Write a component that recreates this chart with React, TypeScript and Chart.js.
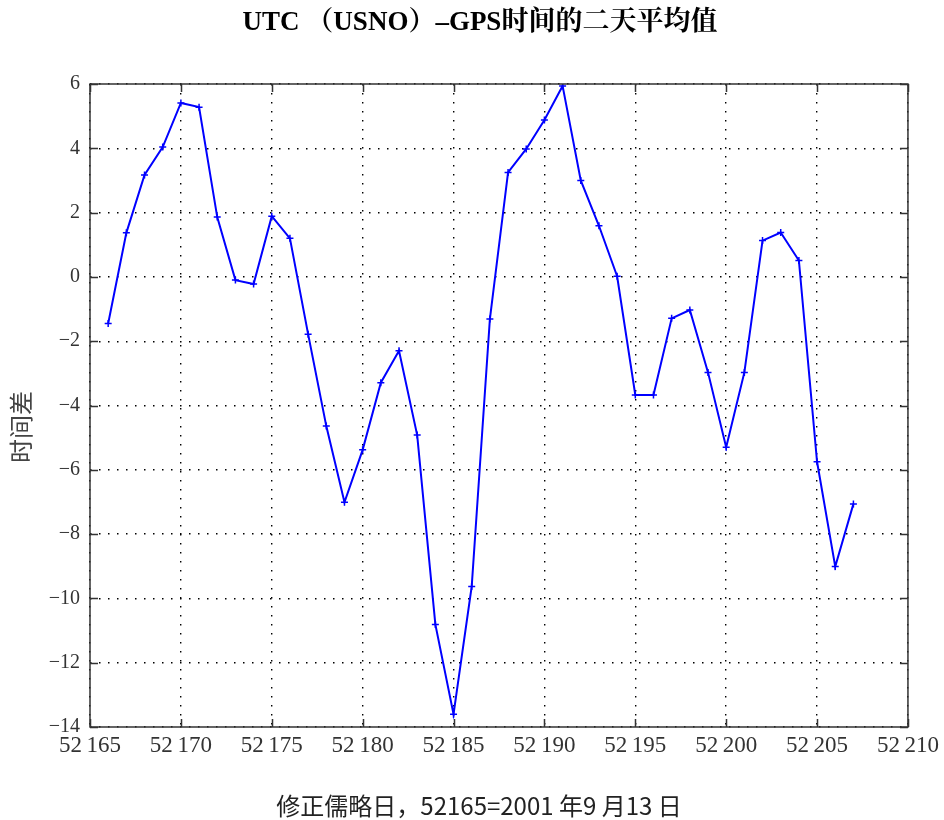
import React, { useEffect, useRef } from "react";
import { Chart, registerables } from "chart.js";

Chart.register(...registerables);

const days = [
  52166, 52167, 52168, 52169, 52170, 52171, 52172, 52173, 52174, 52175,
  52176, 52177, 52178, 52179, 52180, 52181, 52182, 52183, 52184, 52185,
  52186, 52187, 52188, 52189, 52190, 52191, 52192, 52193, 52194, 52195,
  52196, 52197, 52198, 52199, 52200, 52201, 52202, 52203, 52204, 52205,
  52206, 52207,
];
const timeDiff = [
  -1.45, 1.37, 3.17, 4.04, 5.41, 5.28, 1.86, -0.1, -0.22, 1.89,
  1.2, -1.78, -4.64, -7.01, -5.38, -3.29, -2.3, -4.92, -10.81, -13.6,
  -9.63, -1.31, 3.25, 3.98, 4.88, 5.94, 3.0, 1.59, 0.02, -3.67,
  -3.67, -1.29, -1.03, -2.97, -5.3, -2.97, 1.13, 1.38, 0.51, -5.75,
  -9.01, -7.06,
];
const xTicks = [52165, 52170, 52175, 52180, 52185, 52190, 52195, 52200, 52205, 52210];
const yTicks = [-14, -12, -10, -8, -6, -4, -2, 0, 2, 4, 6];

const titleText = "UTC （USNO）–GPS时间的二天平均值";
const xTitle = "修正儒略日，52165=2001 年9 月13 日";
const yTitle = "时间差";

const frameTicks = {
  id: "frameTicks",
  afterDatasetsDraw(chart: any) {
    const { ctx, chartArea } = chart;
    const { left, right, top, bottom } = chartArea;
    const xs = chart.scales.x;
    const ys = chart.scales.y;
    ctx.save();
    ctx.strokeStyle = "#333";
    ctx.lineWidth = 1.5;
    ctx.strokeRect(left, top, right - left, bottom - top);
    const len = 8;
    ctx.beginPath();
    xTicks.forEach((v) => {
      const px = Math.round(xs.getPixelForValue(v)) + 0.5;
      ctx.moveTo(px, bottom);
      ctx.lineTo(px, bottom - len);
      ctx.moveTo(px, top);
      ctx.lineTo(px, top + len);
    });
    yTicks.forEach((v) => {
      const py = Math.round(ys.getPixelForValue(v)) + 0.5;
      ctx.moveTo(left, py);
      ctx.lineTo(left + len, py);
      ctx.moveTo(right, py);
      ctx.lineTo(right - len, py);
    });
    ctx.stroke();

    // titles
    ctx.textAlign = "center";
    ctx.textBaseline = "middle";
    ctx.fillStyle = "#000";
    ctx.font = 'bold 27px "Liberation Serif", "Noto Serif CJK SC", "Noto Sans CJK SC", serif';
    ctx.fillText(titleText, 480, 23);
    ctx.fillStyle = "#222";
    ctx.font = '24px "Noto Sans CJK SC", sans-serif';
    ctx.fillText(xTitle, 479, 806);
    ctx.save();
    ctx.translate(21, 427);
    ctx.rotate(-Math.PI / 2);
    ctx.fillStyle = "#444";
    ctx.font = '24px "Noto Sans CJK SC", sans-serif';
    ctx.fillText(yTitle, 0, 0);
    ctx.restore();
    ctx.restore();
  },
};

export default function App() {
  const ref = useRef<HTMLCanvasElement | null>(null);
  useEffect(() => {
    document.body.style.margin = "0";
    const canvas = ref.current!;
    const chart = new Chart(canvas, {
      type: "line",
      data: {
        datasets: [
          {
            data: days.map((d, i) => ({ x: d, y: timeDiff[i] })),
            borderColor: "#0000ff",
            backgroundColor: "#0000ff",
            borderWidth: 2,
            pointStyle: "cross",
            pointRadius: 3.5,
            pointBorderWidth: 1.5,
            pointBorderColor: "#0000ff",
            tension: 0,
            fill: false,
          },
        ],
      },
      options: {
        animation: false,
        responsive: false,
        devicePixelRatio: 1,
        layout: { padding: { left: 0, right: 36, top: 84, bottom: 0 } },
        plugins: {
          legend: { display: false },
          tooltip: { enabled: false },
          title: { display: false },
        },
        scales: {
          x: {
            type: "linear",
            min: 52165,
            max: 52210,
            afterFit(scale: any) {
              scale.height = 93;
            },
            afterBuildTicks(scale: any) {
              scale.ticks = xTicks.map((v) => ({ value: v }));
            },
            border: { display: false, dash: [1.5, 7.5] },
            grid: {
              color: "#000",
              lineWidth: 1.4,
              drawTicks: false,
              tickLength: 0,
            },
            ticks: {
              padding: 5,
              color: "#333",
              font: { family: '"Liberation Serif", serif', size: 23 },
              callback: (v: any) => {
                const s = String(v);
                return s.slice(0, 2) + "\u2009" + s.slice(2);
              },
              maxRotation: 0,
              autoSkip: false,
            },
            title: { display: false },
          },
          y: {
            type: "linear",
            min: -14,
            max: 6,
            afterFit(scale: any) {
              scale.width = 90;
            },
            afterBuildTicks(scale: any) {
              scale.ticks = yTicks.map((v) => ({ value: v }));
            },
            border: { display: false, dash: [1.5, 7.5] },
            grid: {
              color: "#000",
              lineWidth: 1.4,
              drawTicks: false,
              tickLength: 0,
            },
            ticks: {
              padding: 10,
              color: "#333",
              font: { family: '"Liberation Serif", serif', size: 20 },
              callback: (v: any) => (Number(v) < 0 ? "\u2212" + Math.abs(Number(v)) : String(v)),
              autoSkip: false,
            },
            title: { display: false },
          },
        },
      },
      plugins: [frameTicks],
    });
    return () => chart.destroy();
  }, []);
  return (
    <div style={{ width: 944, height: 820, background: "#fff" }}>
      <canvas ref={ref} width={944} height={820} style={{ display: "block" }} />
    </div>
  );
}
